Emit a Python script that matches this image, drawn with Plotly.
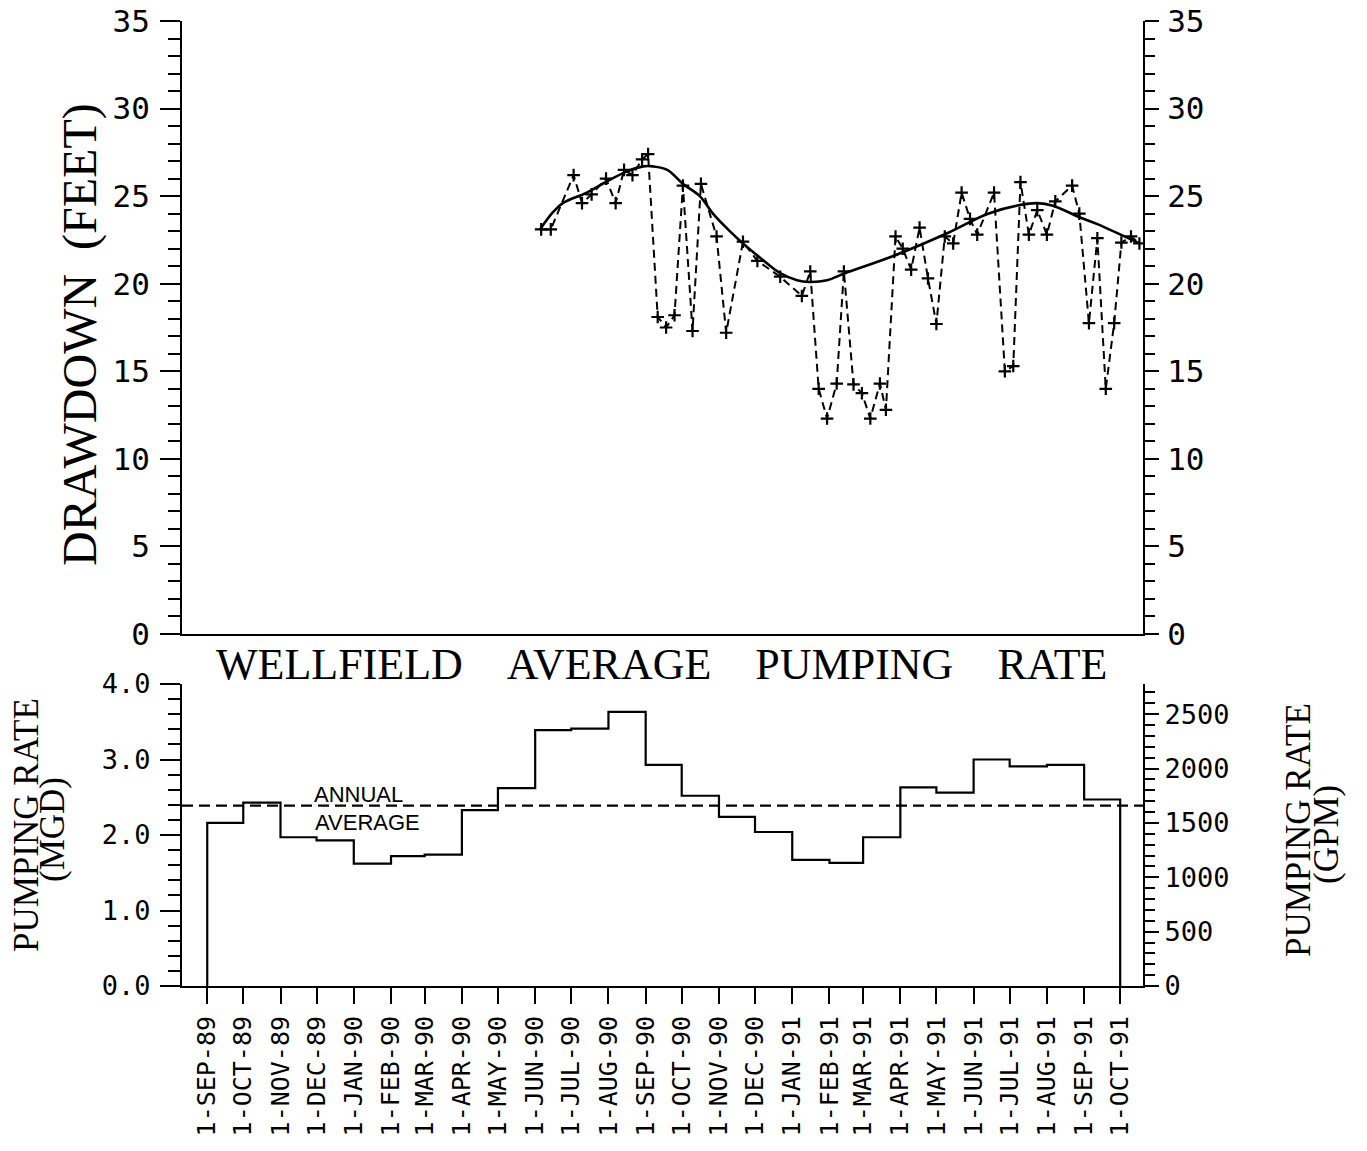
import plotly.graph_objects as go

# ---------------- data ----------------
obs_dates = [
    "1990-06-06", "1990-06-14", "1990-07-03", "1990-07-10", "1990-07-18", "1990-07-30",
    "1990-08-07", "1990-08-14", "1990-08-21", "1990-08-29", "1990-09-03", "1990-09-11",
    "1990-09-18", "1990-09-25", "1990-10-02", "1990-10-10", "1990-10-17", "1990-10-30",
    "1990-11-07", "1990-11-21", "1990-12-03", "1990-12-22", "1991-01-09", "1991-01-16",
    "1991-01-23", "1991-01-30", "1991-02-07", "1991-02-13", "1991-02-21", "1991-02-28",
    "1991-03-07", "1991-03-15", "1991-03-20", "1991-03-28", "1991-04-03", "1991-04-10",
    "1991-04-17", "1991-04-24", "1991-05-01", "1991-05-08", "1991-05-15", "1991-05-22",
    "1991-05-29", "1991-06-04", "1991-06-18", "1991-06-27", "1991-07-04", "1991-07-10",
    "1991-07-17", "1991-07-24", "1991-08-01", "1991-08-08", "1991-08-22", "1991-08-28",
    "1991-09-05", "1991-09-12", "1991-09-19", "1991-09-26", "1991-10-02", "1991-10-10",
    "1991-10-17",
]
obs_drawdown_ft = [
    23.1, 23.1, 26.2, 24.6, 25.1, 26.0,
    24.6, 26.5, 26.2, 27.1, 27.4, 18.1,
    17.5, 18.2, 25.6, 17.3, 25.7, 22.7,
    17.2, 22.4, 21.3, 20.4, 19.3, 20.7,
    14.0, 12.3, 14.3, 20.7, 14.25, 13.75,
    12.3, 14.3, 12.8, 22.7, 22.0, 20.8,
    23.2, 20.3, 17.7, 22.7, 22.3, 25.2,
    23.7, 22.8, 25.2, 15.0, 15.3, 25.8,
    22.8, 24.2, 22.8, 24.7, 25.6, 24.0,
    17.75, 22.6, 14.0, 17.75, 22.35, 22.7,
    22.3,
]

trend_dates = [
    "1990-06-05", "1990-06-16", "1990-06-24", "1990-07-14", "1990-07-31", "1990-08-16",
    "1990-08-30", "1990-09-07", "1990-09-19", "1990-10-02", "1990-10-16", "1990-10-27",
    "1990-11-10", "1990-11-21", "1990-12-05", "1990-12-22", "1991-01-05", "1991-01-15",
    "1991-01-30", "1991-02-14", "1991-03-25", "1991-05-09", "1991-06-13", "1991-07-10",
    "1991-07-24", "1991-08-06", "1991-08-28", "1991-09-12", "1991-10-17",
]
trend_drawdown_ft = [
    23.1, 24.1, 24.6, 25.2, 25.85, 26.4,
    26.7, 26.7, 26.5, 25.7, 25.0, 24.0,
    23.0, 22.3, 21.5, 20.6, 20.2, 20.1,
    20.2, 20.6, 21.55, 22.85, 24.0, 24.5,
    24.6, 24.45, 23.8, 23.4, 22.3,
]

month_starts = [
    "1989-09-01", "1989-10-01", "1989-11-01", "1989-12-01", "1990-01-01", "1990-02-01",
    "1990-03-01", "1990-04-01", "1990-05-01", "1990-06-01", "1990-07-01", "1990-08-01",
    "1990-09-01", "1990-10-01", "1990-11-01", "1990-12-01", "1991-01-01", "1991-02-01",
    "1991-03-01", "1991-04-01", "1991-05-01", "1991-06-01", "1991-07-01", "1991-08-01",
    "1991-09-01",
]
pumping_mgd = [
    2.16, 2.43, 1.97, 1.93, 1.62, 1.72,
    1.74, 2.33, 2.62, 3.39, 3.41, 3.63,
    2.93, 2.52, 2.24, 2.04, 1.67, 1.63,
    1.97, 2.63, 2.56, 3.00, 2.91, 2.93,
    2.47,
]
record_end = "1991-10-01"
annual_average_mgd = 2.39

tick_dates = month_starts + [record_end]
tick_labels = [
    "1-SEP-89", "1-OCT-89", "1-NOV-89", "1-DEC-89", "1-JAN-90", "1-FEB-90",
    "1-MAR-90", "1-APR-90", "1-MAY-90", "1-JUN-90", "1-JUL-90", "1-AUG-90",
    "1-SEP-90", "1-OCT-90", "1-NOV-90", "1-DEC-90", "1-JAN-91", "1-FEB-91",
    "1-MAR-91", "1-APR-91", "1-MAY-91", "1-JUN-91", "1-JUL-91", "1-AUG-91",
    "1-SEP-91", "1-OCT-91",
]
MGD_TO_GPM = 1e6 / 1440.0

# ---------------- figure ----------------
W, H = 1367, 1151
# target plot-area edges in page pixels
PL, PR, PT, PB = 182, 1143, 21, 986
ML, MR, MT, MB = PL, W - PR, PT, H - PB
plot_h = PB - PT
plot_w = PR - PL

def ypaper(py):
    return (PB - py) / plot_h

def xpaper(px):
    return (px - PL) / plot_w

TICKFONT = "DejaVu Sans Mono"
SERIF = "Liberation Serif"
x_range = ["1989-08-11", "1991-10-20"]

fig = go.Figure()

fig.add_trace(go.Scatter(
    x=trend_dates, y=trend_drawdown_ft, mode="lines",
    line=dict(color="black", width=2.6, shape="spline", smoothing=1.0),
    xaxis="x", yaxis="y", showlegend=False, hoverinfo="skip"))

fig.add_trace(go.Scatter(
    x=obs_dates, y=obs_drawdown_ft, mode="lines+markers",
    line=dict(color="black", width=2, dash="8px,5px"),
    marker=dict(symbol="cross-thin", size=9, line=dict(width=2.2, color="black")),
    xaxis="x", yaxis="y", showlegend=False))

fig.add_trace(go.Scatter(x=[], y=[], xaxis="x", yaxis="y3", showlegend=False))

step_x = [month_starts[0]] + month_starts + [record_end]
step_y = [0] + pumping_mgd + [0]
fig.add_trace(go.Scatter(
    x=step_x, y=step_y, mode="lines",
    line=dict(color="black", width=2.2, shape="hv"),
    xaxis="x2", yaxis="y2", showlegend=False))

fig.add_trace(go.Scatter(x=[], y=[], xaxis="x2", yaxis="y4", showlegend=False))

fig.add_shape(type="line", xref="x2 domain", x0=0, x1=1, yref="y2",
              y0=annual_average_mgd, y1=annual_average_mgd,
              line=dict(color="black", width=2.2, dash="11px,6px"))

top_dom = [ypaper(634), 1.0]
bot_dom = [0.0, ypaper(684)]

common_y = dict(showgrid=False, zeroline=False, showline=True, linecolor="black",
                linewidth=2, ticks="outside", tickcolor="black", tickwidth=2,
                automargin=False, ticklabeloverflow="allow")
big_tf = dict(family=TICKFONT, size=31, color="black")
mid_tf = dict(family=TICKFONT, size=27, color="black")

fig.update_layout(
    width=W, height=H, paper_bgcolor="white", plot_bgcolor="white",
    margin=dict(l=ML, r=MR, t=MT, b=MB, autoexpand=False),
    xaxis=dict(domain=[0, 1], type="date", range=x_range, anchor="y",
               showgrid=False, zeroline=False, showline=True, linecolor="black",
               linewidth=2, ticks="", showticklabels=False, automargin=False),
    yaxis=dict(domain=top_dom, range=[0, 35], anchor="x", tickvals=[0, 5, 10, 15, 20, 25, 30, 35],
               ticklen=20, minor=dict(dtick=1, ticklen=12, tickwidth=2, tickcolor="black", ticks="outside"),
               ticklabelstandoff=4, tickfont=big_tf, **common_y),
    yaxis3=dict(range=[0, 35], overlaying="y", side="right", anchor="x",
                tickvals=[0, 5, 10, 15, 20, 25, 30, 35], ticklen=14,
                minor=dict(dtick=1, ticklen=10, tickwidth=2, tickcolor="black", ticks="outside"),
                ticklabelstandoff=2, tickfont=big_tf, **common_y),
    xaxis2=dict(domain=[0, 1], type="date", range=x_range, anchor="y2",
                showgrid=False, zeroline=False, showline=True, linecolor="black", linewidth=2,
                ticks="outside", ticklen=16, tickwidth=2, tickcolor="black",
                tickvals=tick_dates, ticktext=tick_labels, tickangle=-90,
                ticklabelstandoff=2, automargin=False, ticklabeloverflow="allow",
                tickfont=dict(family=TICKFONT, size=25, color="black")),
    yaxis2=dict(domain=bot_dom, range=[0, 4], anchor="x2",
                tickvals=[0, 1, 2, 3, 4], ticktext=["0.0", "1.0", "2.0", "3.0", "4.0"],
                ticklen=20, minor=dict(dtick=0.2, ticklen=12, tickwidth=2, tickcolor="black", ticks="outside"),
                ticklabelstandoff=4, tickfont=mid_tf, **common_y),
    yaxis4=dict(range=[0, 4 * MGD_TO_GPM], overlaying="y2", side="right", anchor="x2",
                tickvals=[0, 500, 1000, 1500, 2000, 2500], ticklen=14,
                minor=dict(dtick=100, ticklen=10, tickwidth=2, tickcolor="black", ticks="outside"),
                ticklabelstandoff=0, tickfont=mid_tf, **common_y),
)

NB = "\u00a0"
sp = NB * 4
annotations = [
    dict(text="WELLFIELD" + sp + "AVERAGE" + sp + "PUMPING" + sp + "RATE",
         x=xpaper(661), y=ypaper(664), font=dict(family=SERIF, size=44)),
    dict(text="DRAWDOWN" + NB * 2 + "(FEET)", x=xpaper(80), y=ypaper(335), textangle=-90,
         font=dict(family=SERIF, size=48)),
    dict(text="PUMPING RATE", x=xpaper(26), y=ypaper(825), textangle=-90,
         font=dict(family=SERIF, size=35)),
    dict(text="(MGD)", x=xpaper(52), y=ypaper(830), textangle=-90,
         font=dict(family=SERIF, size=35)),
    dict(text="PUMPING RATE", x=xpaper(1298), y=ypaper(830), textangle=-90,
         font=dict(family=SERIF, size=35)),
    dict(text="(GPM)", x=xpaper(1326), y=ypaper(835), textangle=-90,
         font=dict(family=SERIF, size=35)),
    dict(text="ANNUAL", x=xpaper(312), y=ypaper(794), xanchor="left",
         font=dict(family="Liberation Sans", size=22)),
    dict(text="AVERAGE", x=xpaper(313), y=ypaper(822), xanchor="left",
         font=dict(family="Liberation Sans", size=22)),
]
for a in annotations:
    a.setdefault("xanchor", "center")
    a.update(xref="paper", yref="paper", yanchor="middle", showarrow=False)
    a["font"]["color"] = "black"
fig.update_layout(annotations=annotations)

fig.write_html("out.html",
               config={"displayModeBar": False},
               post_script="document.body.style.margin='0';document.body.style.overflow='hidden';")
